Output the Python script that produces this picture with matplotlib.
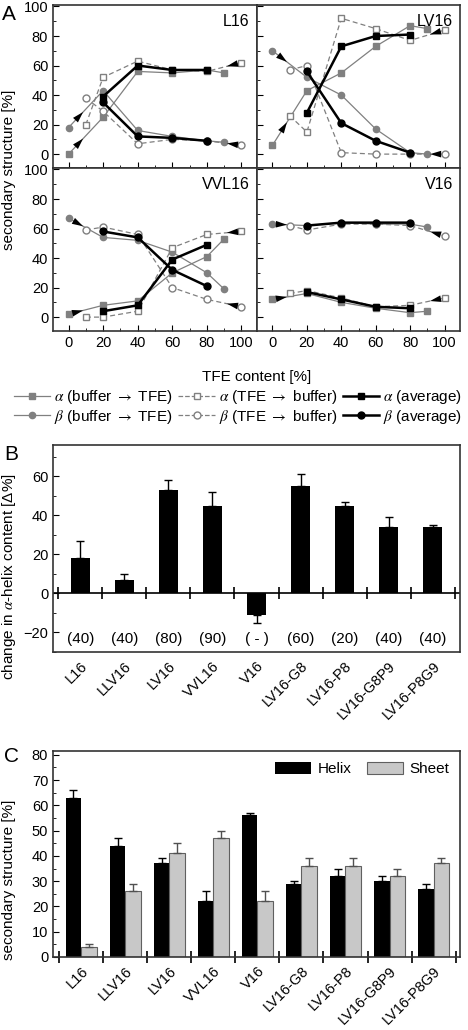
import numpy as np
import matplotlib
matplotlib.use("Agg")
import matplotlib.pyplot as plt
from matplotlib.lines import Line2D
from matplotlib.ticker import MultipleLocator

plt.rcParams['font.family'] = ['Liberation Sans', 'DejaVu Sans']
plt.rcParams['mathtext.fontset'] = 'stix'
plt.rcParams['font.size'] = 11

# ---- panel A: TFE titration ----
x_up = [0, 20, 40, 60, 80, 90]        # buffer -> TFE
x_down = [10, 20, 40, 60, 80, 100]    # TFE -> buffer
x_avg = [20, 40, 60, 80]

peptides_A = ["L16", "LV16", "VVL16", "V16"]
alpha_up = {"L16": [0, 25, 56, 55, 57, 55], "LV16": [6, 43, 55, 73, 87, 85],
            "VVL16": [2, 8, 11, 30, 41, 53], "V16": [12, 16, 10, 6, 3, 4]}
alpha_down = {"L16": [20, 52, 63, 57, 56, 62], "LV16": [26, 15, 92, 85, 77, 84],
              "VVL16": [0, 0, 4, 47, 56, 58], "V16": [16, 18, 13, 7, 8, 13]}
alpha_avg = {"L16": [39, 60, 57, 57], "LV16": [28, 73, 80, 81],
             "VVL16": [4, 8, 39, 49], "V16": [17, 12, 7, 6]}
beta_up = {"L16": [18, 43, 16, 12, 9, 8], "LV16": [70, 52, 40, 17, 1, 0],
           "VVL16": [67, 54, 52, 44, 30, 19], "V16": [63, 62, 64, 63, 63, 61]}
beta_down = {"L16": [38, 29, 7, 10, 9, 6], "LV16": [57, 60, 1, 0, 0, 0],
             "VVL16": [59, 61, 56, 20, 12, 7], "V16": [62, 59, 63, 63, 62, 55]}
beta_avg = {"L16": [35, 12, 11, 9], "LV16": [56, 21, 9, 1],
            "VVL16": [58, 54, 32, 21], "V16": [62, 64, 64, 64]}

# ---- panels B and C ----
peptides = ["L16", "LLV16", "LV16", "VVL16", "V16", "LV16-G8", "LV16-P8", "LV16-G8P9", "LV16-P8G9"]
delta_helix = [18, 7, 53, 45, -11, 55, 45, 34, 34]
delta_err = [9, 3, 5, 7, 4, 6, 2, 5, 1]
tfe_at = ["(40)", "(40)", "(80)", "(90)", "( - )", "(60)", "(20)", "(40)", "(40)"]

helix = [63, 44, 37, 22, 56, 29, 32, 30, 27]
helix_err = [3, 3, 2, 4, 1, 1, 3, 2, 2]
sheet = [4, 26, 41, 47, 22, 36, 36, 32, 37]
sheet_err = [1, 3, 4, 3, 4, 3, 3, 3, 2]

GRAY = "#808080"
TICK_FS = 10.5
W, H = 468, 1030
fig = plt.figure(figsize=(W / 100, H / 100), dpi=100)


def rect(x0, y0, x1, y1):
    # pixel box -> figure fraction
    return [x0 / W, 1 - y1 / H, (x1 - x0) / W, (y1 - y0) / H]


def style_frame(ax):
    for s in ax.spines.values():
        s.set_linewidth(1.2)
        s.set_color('#333333')


def direction_arrow(ax, xs, ys, forward):
    if forward:
        p0, p1 = np.array([xs[0], ys[0]]), np.array([xs[1], ys[1]])
    else:
        p0, p1 = np.array([xs[-1], ys[-1]]), np.array([xs[-2], ys[-2]])
    tip = p0 + 0.42 * (p1 - p0)
    ax.annotate('', xy=tip, xytext=p0,
                arrowprops=dict(arrowstyle='-|>,head_length=0.8,head_width=0.24',
                                fc='k', ec='k', lw=0, shrinkA=0, shrinkB=0,
                                mutation_scale=10))


boxes = {"L16": (53, 5, 257, 168), "LV16": (257, 5, 460, 168),
         "VVL16": (53, 168, 257, 331), "V16": (257, 168, 460, 331)}

for name in peptides_A:
    ax = fig.add_axes(rect(*boxes[name]))
    ax.plot(x_up, alpha_up[name], '-s', color=GRAY, lw=0.9, ms=4.5, mfc=GRAY, mec=GRAY)
    ax.plot(x_up, beta_up[name], '-o', color=GRAY, lw=0.9, ms=4.5, mfc=GRAY, mec=GRAY)
    ax.plot(x_down, alpha_down[name], '--s', color=GRAY, lw=0.9, ms=5, mfc='white', mec=GRAY,
            dashes=(4, 2.5))
    ax.plot(x_down, beta_down[name], '--o', color=GRAY, lw=0.9, ms=5, mfc='white', mec=GRAY,
            dashes=(4, 2.5))
    ax.plot(x_avg, alpha_avg[name], '-s', color='k', lw=1.8, ms=5)
    ax.plot(x_avg, beta_avg[name], '-o', color='k', lw=1.8, ms=5)
    direction_arrow(ax, x_up, alpha_up[name], True)
    direction_arrow(ax, x_up, beta_up[name], True)
    direction_arrow(ax, x_down, alpha_down[name], False)
    direction_arrow(ax, x_down, beta_down[name], False)

    ax.set_xlim(-9, 109)
    ax.set_ylim(-9.4, 101)
    ax.xaxis.set_major_locator(MultipleLocator(20))
    ax.xaxis.set_minor_locator(MultipleLocator(10))
    ax.yaxis.set_major_locator(MultipleLocator(20))
    ax.yaxis.set_minor_locator(MultipleLocator(10))
    ax.tick_params(which='both', direction='in', top=False, right=False, labelsize=TICK_FS)
    ax.tick_params(which='major', length=4)
    ax.tick_params(which='minor', length=2.5)
    if name in ("L16", "LV16"):
        ax.tick_params(labelbottom=False)
    if name in ("LV16", "V16"):
        ax.tick_params(labelleft=False)
    style_frame(ax)
    ax.text(0.965, 0.9, name, transform=ax.transAxes, ha='right', va='center', fontsize=11.5)

fig.text(2 / W, 1 - 14 / H, "A", fontsize=15, ha='left', va='center')
fig.text(9 / W, 1 - 170 / H, "secondary structure [%]", rotation=90, ha='center', va='center')
fig.text(257 / W, 1 - 377 / H, "TFE content [%]", ha='center', va='center')

handles = [
    Line2D([], [], color=GRAY, lw=0.9, marker='s', ms=4.5, mfc=GRAY, mec=GRAY),
    Line2D([], [], color=GRAY, lw=0.9, marker='o', ms=4.5, mfc=GRAY, mec=GRAY),
    Line2D([], [], color=GRAY, lw=0.9, ls='--', marker='s', ms=5, mfc='white', mec=GRAY),
    Line2D([], [], color=GRAY, lw=0.9, ls='--', marker='o', ms=5, mfc='white', mec=GRAY),
    Line2D([], [], color='k', lw=1.8, marker='s', ms=5),
    Line2D([], [], color='k', lw=1.8, marker='o', ms=5),
]
labels = [r"$\alpha$ (buffer $\rightarrow$ TFE)", r"$\beta$ (buffer $\rightarrow$ TFE)",
          r"$\alpha$ (TFE $\rightarrow$ buffer)", r"$\beta$ (TFE $\rightarrow$ buffer)",
          r"$\alpha$ (average)", r"$\beta$ (average)"]
fig.legend(handles, labels, ncol=3, loc='center', bbox_to_anchor=(238 / W, 1 - 407 / H),
           frameon=False, fontsize=11, handlelength=2.4, handletextpad=0.25,
           columnspacing=0.35, labelspacing=0.1, borderpad=0)

# ---- panel B ----
xpos = np.arange(len(peptides))
axB = fig.add_axes(rect(53, 445, 460, 652))
err_b = [[0 if v > 0 else e for v, e in zip(delta_helix, delta_err)],
         [e if v > 0 else 0 for v, e in zip(delta_helix, delta_err)]]
axB.bar(xpos, delta_helix, width=0.42, color='k', yerr=err_b,
        error_kw=dict(ecolor='k', elinewidth=1, capsize=3, capthick=1))
axB.axhline(0, color='k', lw=1.2)
bounds = np.arange(len(peptides) + 1) - 0.5
axB.plot(bounds, np.zeros_like(bounds), ls='none', marker='|', ms=8, mew=1.2, color='k')
for i, t in enumerate(tfe_at):
    axB.text(xpos[i], -23.5, t, ha='center', va='center', fontsize=11)
axB.set_xlim(-0.62, 8.62)
axB.set_ylim(-30, 76)
axB.set_xticks(xpos)
axB.set_xticklabels(peptides, rotation=45, ha='right', rotation_mode='anchor')
axB.tick_params(axis='x', length=0, pad=5, labelsize=TICK_FS)
axB.yaxis.set_major_locator(MultipleLocator(20))
axB.yaxis.set_minor_locator(MultipleLocator(10))
axB.tick_params(axis='y', which='both', direction='in', labelsize=TICK_FS)
axB.tick_params(axis='y', which='major', length=4)
axB.tick_params(axis='y', which='minor', length=2.5)
style_frame(axB)
fig.text(4 / W, 1 - 455 / H, "B", fontsize=15, ha='left', va='center')
fig.text(9 / W, 1 - 577 / H, r"change in $\alpha$-helix content [Δ%]", rotation=90,
         ha='center', va='center')

# ---- panel C ----
axC = fig.add_axes(rect(53, 751, 460, 957))
bw = 0.35
axC.bar(xpos - bw / 2, helix, width=bw, color='k', label='Helix',
        yerr=[[0] * len(helix), helix_err],
        error_kw=dict(ecolor='k', elinewidth=1, capsize=3, capthick=1))
axC.bar(xpos + bw / 2, sheet, width=bw, color='#c8c8c8', edgecolor='#606060', lw=0.8,
        label='Sheet', yerr=[[0] * len(sheet), sheet_err],
        error_kw=dict(ecolor='#505050', elinewidth=1, capsize=3, capthick=1))
axC.set_xlim(-0.64, 8.6)
axC.set_ylim(0, 81.5)
axC.set_xticks(xpos)
axC.set_xticks(bounds, minor=True)
axC.set_xticklabels(peptides, rotation=45, ha='right', rotation_mode='anchor')
axC.tick_params(axis='x', which='major', length=0, pad=5, labelsize=TICK_FS)
axC.tick_params(axis='x', which='minor', direction='inout', length=8, width=1.2)
axC.yaxis.set_major_locator(MultipleLocator(10))
axC.yaxis.set_minor_locator(MultipleLocator(5))
axC.tick_params(axis='y', which='both', direction='in', labelsize=TICK_FS)
axC.tick_params(axis='y', which='major', length=4)
axC.tick_params(axis='y', which='minor', length=2.5)
style_frame(axC)
axC.legend(loc='upper right', ncol=2, frameon=False, fontsize=11, handlelength=2.4,
           handleheight=0.9, handletextpad=0.4, columnspacing=1.0, borderaxespad=0.3)
fig.text(4 / W, 1 - 756 / H, "C", fontsize=15, ha='left', va='center')
fig.text(9 / W, 1 - 880 / H, "secondary structure [%]", rotation=90, ha='center', va='center')

fig.savefig("out.png", dpi=100)
